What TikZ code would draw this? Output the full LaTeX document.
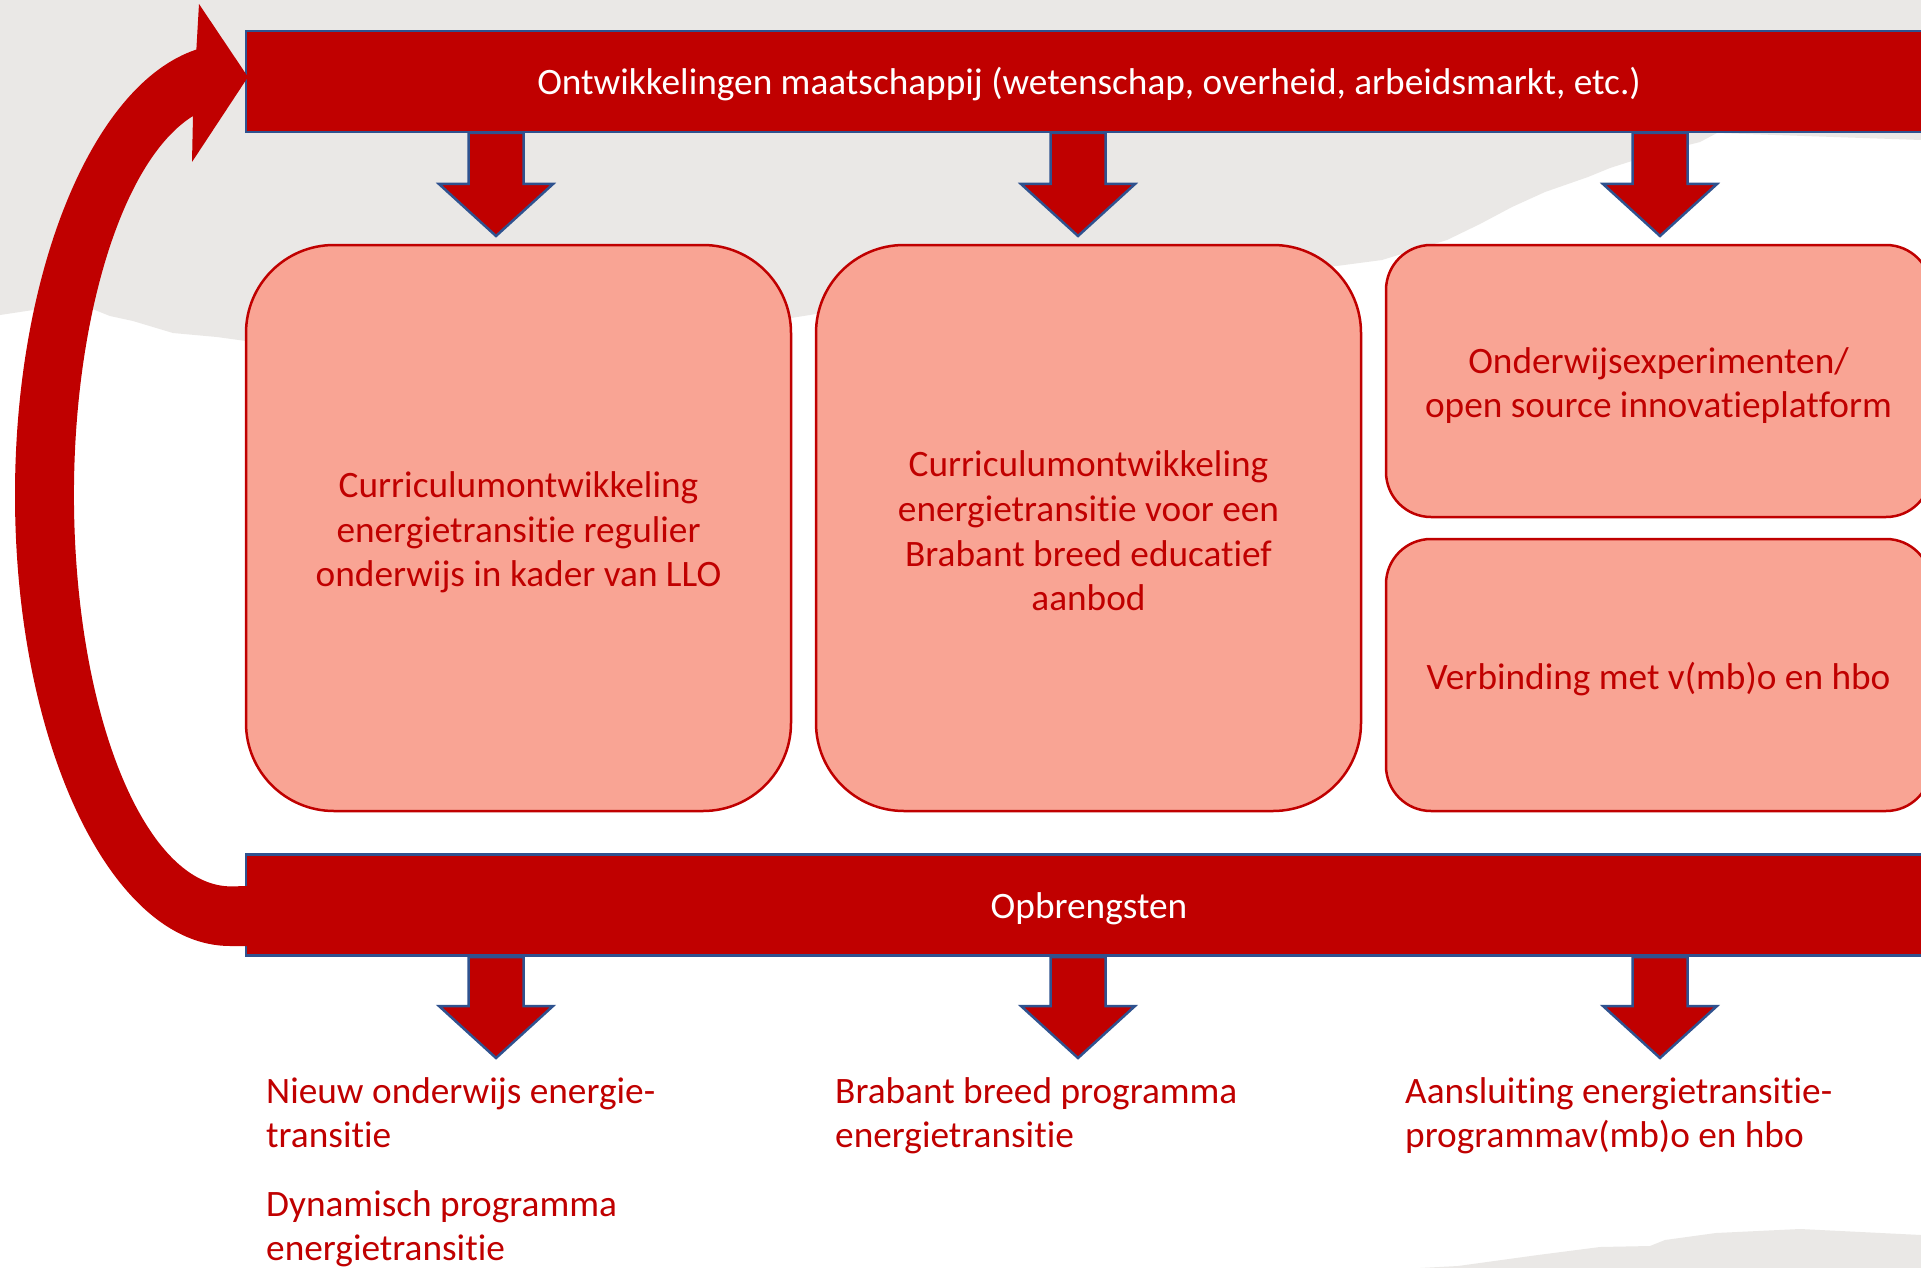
\documentclass[tikz,border=0pt]{standalone}
\usepackage{fontspec}
\setmainfont{Carlito}[Ligatures={NoCommon}]
\definecolor{barred}{HTML}{C00000}
\definecolor{barblue}{HTML}{2F528F}
\definecolor{boxfill}{HTML}{F9A494}
\definecolor{bggrey}{HTML}{EAE8E6}
\newcommand\txtfont{\fontsize{37.3}{44.7}\selectfont}
\newcommand\lines[1]{\begin{tabular}[t]{@{}l@{}}#1\end{tabular}}
\tikzset{
  bar/.style={draw=barblue, line width=2.5pt, fill=barred,
    minimum height=101pt, minimum width=1689pt, inner sep=0pt},
  bartext/.style={text=white, inner sep=0pt, font=\txtfont},
  bigbox/.style={draw=barred, line width=2.5pt, fill=boxfill,
    rounded corners=88pt, minimum width=545pt, minimum height=566pt, inner sep=0pt},
  smallbox/.style={bigbox, rounded corners=45pt, minimum height=272pt},
  boxtext/.style={text=barred, align=center, inner sep=0pt, font=\txtfont},
  blockarr/.style={draw=barblue, line width=2.5pt, fill=barred, line join=miter},
  outtext/.style={text=barred, anchor=base west, inner sep=0pt, font=\txtfont},
  loopfill/.style={fill=barred}
}
\newcommand\blkarrow[3]{% x centre, shaft top y, tip y
  \draw[blockarr] (#1-27.5,#2) -- (#1+27.5,#2) -- (#1+27.5,#3-52) -- (#1+57,#3-52)
    -- (#1,#3) -- (#1-57,#3-52) -- (#1-27.5,#3-52) -- cycle;}
\begin{document}
\begin{tikzpicture}[x=1pt,y=-1pt]
\useasboundingbox (0,0) rectangle (1921,1268);
\clip (0,0) rectangle (1921,1268);
\fill[white] (0,0) rectangle (1921,1268);
% grey torn background
\fill[bggrey] (0,0) -- (1921,0) -- (1921,140) -- (1717,133) -- (1700,142) -- (1660,152)
  -- (1610,168) -- (1588,177) -- (1545,192) -- (1512,207) -- (1480,224) -- (1447,240)
  -- (1382,260) -- (1329,267) -- (1100,287) -- (816,314) -- (791,318) -- (500,330)
  -- (246,341) -- (217,337) -- (173,333) -- (133,321) -- (110,316) -- (90,308)
  -- (33,310) -- (0,315) -- cycle;
\fill[bggrey] (1420,1268) -- (1458,1266) -- (1538,1255) -- (1600,1247) -- (1650,1246)
  -- (1665,1240) -- (1716,1233) -- (1800,1229) -- (1921,1235) -- (1921,1268) -- cycle;
% bars
\node[bar] (ontw) at (1090.5,81.5) {};
\node[bartext] (ontwt) at ([xshift=-1.5pt,yshift=-3pt]ontw.center) {Ontwikkelingen maatschappij (wetenschap, overheid, arbeidsmarkt, etc.)};
\node[bar] (opbr) at (1090.5,905) {};
\node[bartext] (opbrt) at ([xshift=-1.5pt,yshift=-4pt]opbr.center) {Opbrengsten};
% feedback loop arrow
\fill[loopfill] (250,946) -- (230,946)
  arc[start angle=90, end angle=261, x radius=215, y radius=451]
  -- (199,4) -- (248,77) -- (192,162) -- (193,116)
  arc[start angle=256, end angle=90, x radius=157, y radius=391]
  -- (250,886) -- cycle;
% boxes
\node[bigbox] (b1) at (518.5,528) {};
\node[boxtext] (b1t) at ([yshift=-4.5pt]b1.center) {Curriculumontwikkeling\\energietransitie regulier\\onderwijs in kader van LLO};
\node[bigbox] (b2) at (1088.5,528) {};
\node[boxtext] (b2t) at ([yshift=-3pt]b2.center) {Curriculumontwikkeling\\energietransitie voor een\\Brabant breed educatief\\aanbod};
\node[smallbox] (b3) at (1658.5,381) {};
\node[boxtext] (b3t) at ([yshift=-4.5pt]b3.center) {Onderwijsexperimenten/\\open source innovatieplatform};
\node[smallbox] (b4) at (1658.5,675) {};
\node[boxtext] (b4t) at ([yshift=-4pt]b4.center) {Verbinding met v(mb)o en hbo};
% block arrows
\blkarrow{496}{133}{236}
\blkarrow{1078}{133}{236}
\blkarrow{1660}{133}{236}
\blkarrow{496}{957}{1058}
\blkarrow{1078}{957}{1058}
\blkarrow{1660}{957}{1058}
% results
\node[outtext] (t1) at (266,1103) {\lines{Nieuw onderwijs energie-\\transitie}};
\node[outtext] (t2) at (266,1216) {\lines{Dynamisch programma\\energietransitie}};
\node[outtext] (t3) at (835,1103) {\lines{Brabant breed programma\\energietransitie}};
\node[outtext] (t4) at (1405,1103) {\lines{Aansluiting energietransitie-\\programmav(mb)o en hbo}};
\end{tikzpicture}
\end{document}
